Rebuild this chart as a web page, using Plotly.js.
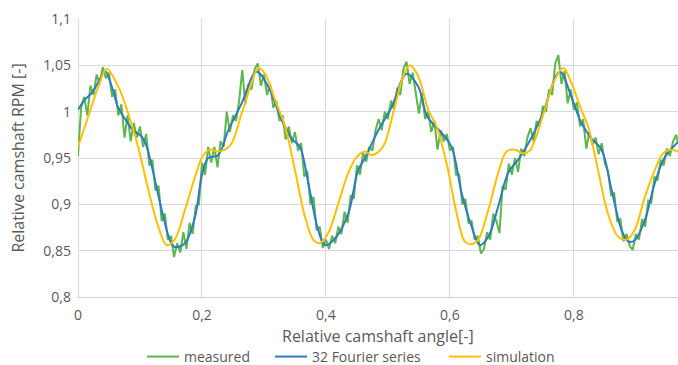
<!DOCTYPE html>
<html>
<head>
<meta charset="utf-8">
<script src="https://cdn.plot.ly/plotly-3.0.1.min.js"></script>
<style>html,body{margin:0;padding:0;background:#fff;}#chart{width:678px;height:365px;}</style>
</head>
<body>
<div id="chart"></div>
<script>
// Measured (green)
const measuredX = [0.000,0.005,0.010,0.015,0.020,0.025,0.030,0.035,0.040,0.045,0.050,0.055,0.060,0.065,0.070,0.075,0.080,0.085,0.090,0.095,
0.100,0.105,0.110,0.115,0.120,0.125,0.130,0.135,0.140,0.145,0.150,0.155,0.160,0.165,0.170,0.175,0.180,0.185,0.190,0.195,
0.200,0.205,0.210,0.215,0.220,0.225,0.230,0.235,0.240,0.245,0.250,0.255,0.260,0.265,0.270,0.275,0.280,0.285,0.290,0.295,
0.300,0.305,0.310,0.315,0.320,0.325,0.330,0.335,0.340,0.345,0.350,0.355,0.360,0.365,0.370,0.375,0.380,0.385,0.390,0.395,
0.400,0.405,0.410,0.415,0.420,0.425,0.430,0.435,0.440,0.445,0.450,0.455,0.460,0.465,0.470,0.475,0.480,0.485,0.490,0.495,
0.500,0.505,0.510,0.515,0.520,0.525,0.530,0.535,0.540,0.545,0.550,0.555,0.560,0.565,0.570,0.575,0.580,0.585,0.590,0.595,
0.600,0.605,0.610,0.615,0.620,0.625,0.630,0.635,0.640,0.645,0.650,0.655,0.660,0.665,0.670,0.675,0.680,0.685,0.690,0.695,
0.700,0.705,0.710,0.715,0.720,0.725,0.730,0.735,0.740,0.745,0.750,0.755,0.760,0.765,0.770,0.775,0.780,0.785,0.790,0.795,
0.800,0.805,0.810,0.815,0.820,0.825,0.830,0.835,0.840,0.845,0.850,0.855,0.860,0.865,0.870,0.875,0.880,0.885,0.890,0.895,
0.900,0.905,0.910,0.915,0.920,0.925,0.930,0.935,0.940,0.945,0.950,0.955,0.960,0.965,0.968];
const measuredY = [0.952,1.004,1.016,0.996,1.028,1.018,1.040,1.030,1.048,1.036,1.042,1.016,1.024,0.996,1.008,0.972,0.996,0.968,0.988,0.972,
0.984,0.962,0.976,0.942,0.948,0.915,0.920,0.882,0.890,0.862,0.866,0.843,0.858,0.848,0.870,0.852,0.880,0.868,0.898,0.900,
0.945,0.932,0.962,0.945,0.962,0.940,0.968,0.962,1.000,0.978,0.996,0.990,1.012,1.045,1.008,1.030,1.024,1.046,1.052,1.028,
1.040,1.018,1.030,1.004,1.012,0.990,0.996,0.970,0.984,0.966,0.978,0.958,0.966,0.930,0.936,0.900,0.908,0.872,0.876,0.853,
0.862,0.852,0.866,0.858,0.876,0.868,0.892,0.880,0.910,0.906,0.942,0.932,0.956,0.946,0.962,0.958,0.980,0.992,0.980,1.000,
0.992,1.012,1.002,1.026,1.018,1.046,1.054,1.030,1.042,1.020,0.998,1.020,0.992,1.000,0.978,0.990,0.959,0.980,0.968,0.976,
0.958,0.962,0.932,0.932,0.900,0.906,0.880,0.882,0.862,0.866,0.847,0.852,0.870,0.862,0.890,0.882,0.869,0.920,0.916,0.944,
0.932,0.950,0.935,0.960,0.952,0.972,0.982,0.968,0.990,0.984,1.006,1.000,1.024,1.018,1.052,1.061,1.030,1.044,1.009,1.024,
1.002,1.010,0.984,0.992,0.960,0.978,0.964,0.972,0.954,0.966,0.944,0.936,0.910,0.912,0.882,0.884,0.860,0.868,0.855,0.851,
0.868,0.862,0.884,0.876,0.904,0.902,0.930,0.926,0.948,0.942,0.960,0.952,0.968,0.975,0.966];

// 32 Fourier series (blue)
const fourierX = [0,0.011,0.022,0.033,0.0435,0.055,0.065,0.077,0.089,0.1027,0.111,0.119,0.135,0.148,0.156,0.1726,0.189,0.1995,0.210,0.226,
0.2425,0.264,0.288,0.307,0.3285,0.3446,0.358,0.3715,0.3876,0.3984,0.4145,0.436,0.452,0.463,0.4844,0.506,0.530,0.549,0.5634,0.5866,
0.6027,0.619,0.635,0.648,0.662,0.678,0.694,0.710,0.726,0.748,0.7774,0.796,0.812,0.8285,0.8447,0.8607,0.877,0.8876,0.898,0.9145,
0.9306,0.9468,0.968];
const fourierY = [1.002,1.013,1.020,1.032,1.044,1.026,1.004,0.991,0.980,0.973,0.962,0.941,0.894,0.862,0.854,0.858,0.887,0.930,0.950,0.953,
0.980,1.009,1.043,1.027,0.991,0.971,0.962,0.923,0.872,0.856,0.863,0.890,0.937,0.950,0.980,1.005,1.041,1.027,0.995,0.977,
0.962,0.912,0.876,0.856,0.865,0.898,0.934,0.948,0.965,0.995,1.043,1.016,0.988,0.971,0.959,0.916,0.872,0.860,0.861,0.883,
0.923,0.951,0.967];

// Simulation (yellow)
const simX = [0,0.0167,0.0328,0.0462,0.065,0.081,0.097,0.1134,0.1295,0.143,0.156,0.1726,0.189,0.202,0.213,0.226,0.245,0.264,0.280,0.2908,
0.3016,0.3177,0.334,0.350,0.366,0.3795,0.390,0.4037,0.420,0.436,0.4495,0.463,0.4736,0.487,0.495,0.511,0.5247,0.5355,0.549,0.565,
0.5785,0.5947,0.611,0.624,0.635,0.6457,0.662,0.678,0.6914,0.705,0.718,0.729,0.737,0.753,0.769,0.783,0.796,0.812,0.823,0.839,
0.855,0.8715,0.885,0.898,0.9145,0.9306,0.944,0.957,0.968];
const simY = [0.962,0.995,1.027,1.046,1.027,0.998,0.962,0.916,0.876,0.856,0.862,0.894,0.930,0.953,0.959,0.957,0.963,0.998,1.031,1.047,
1.041,1.013,0.984,0.937,0.887,0.862,0.858,0.869,0.901,0.934,0.951,0.957,0.953,0.958,0.966,1.005,1.038,1.050,1.038,1.002,
0.984,0.944,0.890,0.860,0.857,0.862,0.894,0.934,0.957,0.959,0.955,0.958,0.969,1.002,1.034,1.047,1.031,1.002,0.984,0.937,
0.890,0.865,0.862,0.872,0.908,0.937,0.955,0.959,0.957];

const seriesNames = ['measured','32 Fourier series','simulation'];
const xTickVals = [0,0.2,0.4,0.6,0.8];
const yTickVals = [0.8,0.85,0.9,0.95,1,1.05,1.1];
const xTitle = 'Relative camshaft angle[-]';
const yTitle = 'Relative camshaft RPM [-]';

const FONT = '"Open Sans", sans-serif';
const TXT = '#595959';
const traces = [
  {x: measuredX, y: measuredY, name: seriesNames[0], type: 'scatter', mode: 'lines', legend: 'legend',
   line: {color: '#5cb84a', width: 2}},
  {x: fourierX, y: fourierY, name: seriesNames[1], type: 'scatter', mode: 'lines', legend: 'legend2',
   line: {color: '#2e7bc4', width: 2, shape: 'spline', smoothing: 1}},
  {x: simX, y: simY, name: seriesNames[2], type: 'scatter', mode: 'lines', legend: 'legend3',
   line: {color: '#ffc000', width: 2, shape: 'spline', smoothing: 1}}
];

function leg(xpx) {
  return {orientation: 'h', x: xpx / 678, xanchor: 'left', xref: 'container',
          y: 0.022, yanchor: 'middle', yref: 'container', borderwidth: 0,
          bgcolor: 'rgba(0,0,0,0)',
          font: {family: FONT, size: 14, color: TXT}, itemwidth: 32};
}

const layout = {
  width: 678, height: 365,
  margin: {l: 78, r: 0, t: 19, b: 68, autoexpand: false},
  paper_bgcolor: '#ffffff', plot_bgcolor: '#ffffff',
  separators: ', ',
  font: {family: FONT, color: TXT, size: 14},
  showlegend: true,
  legend: leg(142),
  legend2: leg(270),
  legend3: leg(444),
  xaxis: {range: [0, 0.968], tickvals: xTickVals, showgrid: true, gridcolor: '#d9d9d9', gridwidth: 1,
          zeroline: true, zerolinecolor: '#d9d9d9', zerolinewidth: 1,
          showline: true, linecolor: '#d0d0d0', linewidth: 1, ticks: '', ticklabelstandoff: 5,
          automargin: false,
          tickfont: {family: FONT, size: 14, color: TXT}},
  yaxis: {range: [0.8, 1.1], tickvals: yTickVals, showgrid: true, gridcolor: '#d9d9d9', gridwidth: 1,
          zeroline: false, showline: false, ticks: '', ticklabelstandoff: 6, automargin: true,
          tickfont: {family: FONT, size: 14, color: TXT},
          title: {text: yTitle, font: {family: FONT, size: 16, color: TXT}, standoff: 14}},
  annotations: [
    {text: xTitle, xref: 'paper', x: 0.5, xanchor: 'center', yref: 'paper', y: -39 / 278, yanchor: 'middle',
     showarrow: false, font: {family: FONT, size: 16, color: TXT}}
  ]
};

Plotly.newPlot('chart', traces, layout, {displayModeBar: false, staticPlot: true});
</script>
</body>
</html>
